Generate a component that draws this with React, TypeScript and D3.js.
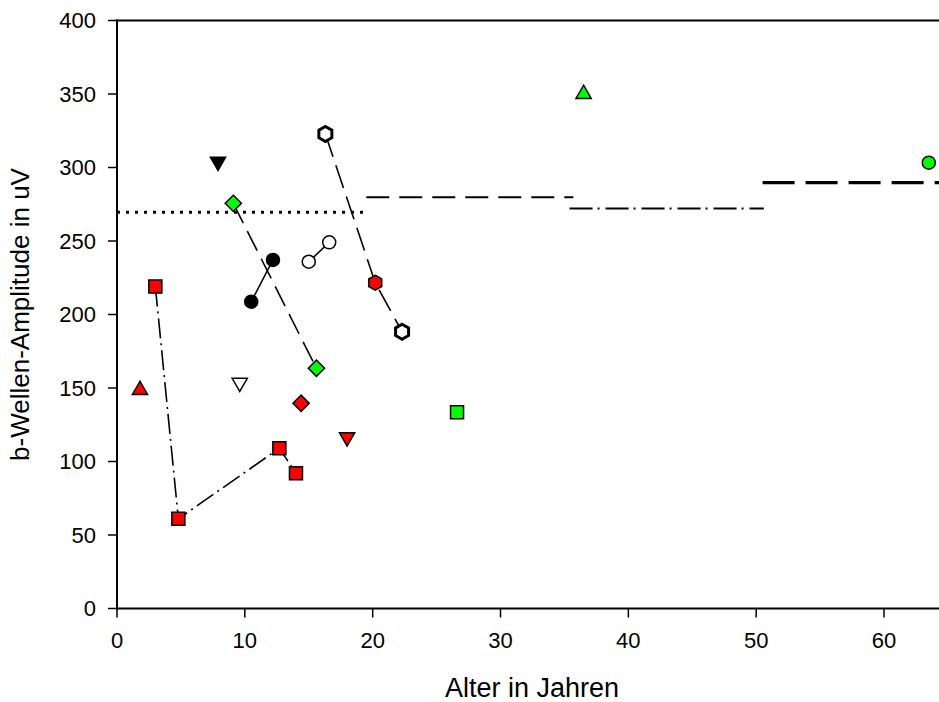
import React from 'react';
import * as d3 from 'd3';

const W = 939;
const H = 702;

// Age in years / b-wave amplitude in uV, one pair of arrays per patient symbol
const redSquareAge = [3.0, 4.8, 12.7, 14.0];
const redSquareAmp = [219, 61, 109, 92];
const greenDiamondAge = [9.1, 15.6];
const greenDiamondAmp = [275.6, 163.4];
const blackCircleAge = [10.5, 12.2];
const blackCircleAmp = [208.7, 237.1];
const whiteCircleAge = [15.0, 16.6];
const whiteCircleAmp = [235.9, 249.1];
const openHexAge = [16.3, 22.3];
const openHexAmp = [322.8, 188.3];
const redHexAge = [20.2];
const redHexAmp = [221.6];
const redTriUpAge = [1.8];
const redTriUpAmp = [148.6];
const blackTriDownAge = [7.9];
const blackTriDownAmp = [304];
const whiteTriDownAge = [9.6];
const whiteTriDownAmp = [153.6];
const redTriDownAge = [18.0];
const redTriDownAmp = [116.5];
const redDiamondAge = [14.4];
const redDiamondAmp = [139.6];
const greenTriUpAge = [36.5];
const greenTriUpAmp = [350];
const greenSquareAge = [26.6];
const greenSquareAmp = [133.5];
const greenCircleAge = [63.5];
const greenCircleAmp = [303.3];

// Age-group norm values (horizontal reference segments)
const normFrom = [0, 19.5, 35.4, 50.5];
const normTo = [19.7, 35.7, 50.6, 65];
const normAmp = [269.5, 279.7, 272.1, 289.7];

const xTicks = [0, 10, 20, 30, 40, 50, 60];
const yTicks = [0, 50, 100, 150, 200, 250, 300, 350, 400];

const FONT = '"Liberation Sans", Arial, Helvetica, sans-serif';

const zip = (a: number[], b: number[]) => a.map((v, i) => [v, b[i]] as [number, number]);

const symbolHexagon = {
  draw(ctx: any, size: number) {
    const r = Math.sqrt(size / (1.5 * Math.sqrt(3)));
    for (let i = 0; i < 6; i++) {
      const a = -Math.PI / 2 + (i * Math.PI) / 3;
      const px = r * Math.cos(a);
      const py = r * Math.sin(a);
      if (i === 0) ctx.moveTo(px, py);
      else ctx.lineTo(px, py);
    }
    ctx.closePath();
  },
};

export default function App() {
  const x = d3.scaleLinear().domain([0, 64.3]).range([117, 939]);
  const y = d3.scaleLinear().domain([0, 400]).range([608.5, 20.5]);
  const line = d3
    .line<[number, number]>()
    .x((d) => x(d[0]))
    .y((d) => y(d[1]));

  const sym = (type: any, size: number) => d3.symbol().type(type).size(size)() as string;
  const square = sym(d3.symbolSquare, 169);
  const diamond = sym(d3.symbolSquare, 132);
  const circle = sym(d3.symbolCircle, 133);
  const triangle = sym(d3.symbolTriangle, 100);
  const hexagon = sym(symbolHexagon, 146);

  const hexLine = zip([...openHexAge, ...redHexAge], [...openHexAmp, ...redHexAmp]).sort(
    (a, b) => a[0] - b[0]
  );

  const markers = (
    age: number[],
    amp: number[],
    path: string,
    fill: string,
    opts: { rotate?: number; sw?: number } = {}
  ) =>
    zip(age, amp).map((d, i) => (
      <path
        key={i}
        d={path}
        transform={`translate(${x(d[0])},${y(d[1])})${opts.rotate ? ` rotate(${opts.rotate})` : ''}`}
        fill={fill}
        stroke="#000"
        strokeWidth={opts.sw ?? 1.5}
        strokeLinejoin="miter"
      />
    ));

  const normStyles = [
    { dash: '3,6', w: 3 },
    { dash: '23,10', w: 2 },
    { dash: '23,5,2,6', w: 2 },
    { dash: '32,11', w: 3.2 },
  ];

  return (
    <svg
      width={W}
      height={H}
      style={{ position: 'absolute', left: 0, top: 0, background: '#fff' }}
      fontFamily={FONT}
    >
      <rect width={W} height={H} fill="#fff" />

      {/* norm segments */}
      {normAmp.map((v, i) => (
        <line
          key={i}
          x1={x(normFrom[i])}
          x2={x(normTo[i])}
          y1={y(v)}
          y2={y(v)}
          stroke="#000"
          strokeWidth={normStyles[i].w}
          strokeDasharray={normStyles[i].dash}
        />
      ))}

      {/* connecting lines of repeated measurements */}
      <path d={line(zip(redSquareAge, redSquareAmp)) as string} fill="none" stroke="#000" strokeWidth={1.6} strokeDasharray="20,5,2,5" />
      <path d={line(zip(greenDiamondAge, greenDiamondAmp)) as string} fill="none" stroke="#000" strokeWidth={1.6} strokeDasharray="22,9" />
      <path d={line(hexLine) as string} fill="none" stroke="#000" strokeWidth={1.6} strokeDasharray="24,9" />
      <path d={line(zip(blackCircleAge, blackCircleAmp)) as string} fill="none" stroke="#000" strokeWidth={1.6} />
      <path d={line(zip(whiteCircleAge, whiteCircleAmp)) as string} fill="none" stroke="#000" strokeWidth={1.6} />

      {/* axes */}
      <line x1={117} x2={117} y1={y(400) - 1} y2={y(0) + 1} stroke="#000" strokeWidth={2} />
      <line x1={116} x2={W} y1={y(0)} y2={y(0)} stroke="#000" strokeWidth={2} />
      <line x1={116} x2={W} y1={y(400)} y2={y(400)} stroke="#000" strokeWidth={2} />
      {yTicks.map((t) => (
        <g key={t}>
          <line x1={108} x2={117} y1={y(t)} y2={y(t)} stroke="#000" strokeWidth={1.5} />
          <text x={96} y={y(t)} dy="0.36em" textAnchor="end" fontSize={22} fill="#000">
            {t}
          </text>
        </g>
      ))}
      {xTicks.map((t) => (
        <g key={t}>
          <line x1={x(t)} x2={x(t)} y1={y(0)} y2={y(0) + 9} stroke="#000" strokeWidth={1.5} />
          <text x={x(t)} y={648} textAnchor="middle" fontSize={22} fill="#000">
            {t}
          </text>
        </g>
      ))}
      <text x={532} y={697} textAnchor="middle" fontSize={27} fill="#000">
        Alter in Jahren
      </text>
      <text
        transform={`translate(29,${(y(0) + y(400)) / 2}) rotate(-90)`}
        textAnchor="middle"
        fontSize={26}
        fill="#000"
      >
        b-Wellen-Amplitude in uV
      </text>

      {/* markers */}
      {markers(redSquareAge, redSquareAmp, square, '#ff0000')}
      {markers(greenDiamondAge, greenDiamondAmp, diamond, '#00ff00', { rotate: 45 })}
      {markers(redDiamondAge, redDiamondAmp, diamond, '#ff0000', { rotate: 45 })}
      {markers(blackCircleAge, blackCircleAmp, circle, '#000')}
      {markers(whiteCircleAge, whiteCircleAmp, circle, '#fff')}
      {markers(openHexAge, openHexAmp, hexagon, '#fff', { sw: 3 })}
      {markers(redHexAge, redHexAmp, hexagon, '#ff0000')}
      {markers(redTriUpAge, redTriUpAmp, triangle, '#ff0000')}
      {markers(greenTriUpAge, greenTriUpAmp, triangle, '#00ff00')}
      {markers(blackTriDownAge, blackTriDownAmp, triangle, '#000', { rotate: 180 })}
      {markers(whiteTriDownAge, whiteTriDownAmp, triangle, '#fff', { rotate: 180 })}
      {markers(redTriDownAge, redTriDownAmp, triangle, '#ff0000', { rotate: 180 })}
      {markers(greenSquareAge, greenSquareAmp, square, '#00ff00')}
      {markers(greenCircleAge, greenCircleAmp, circle, '#00ff00')}
    </svg>
  );
}
